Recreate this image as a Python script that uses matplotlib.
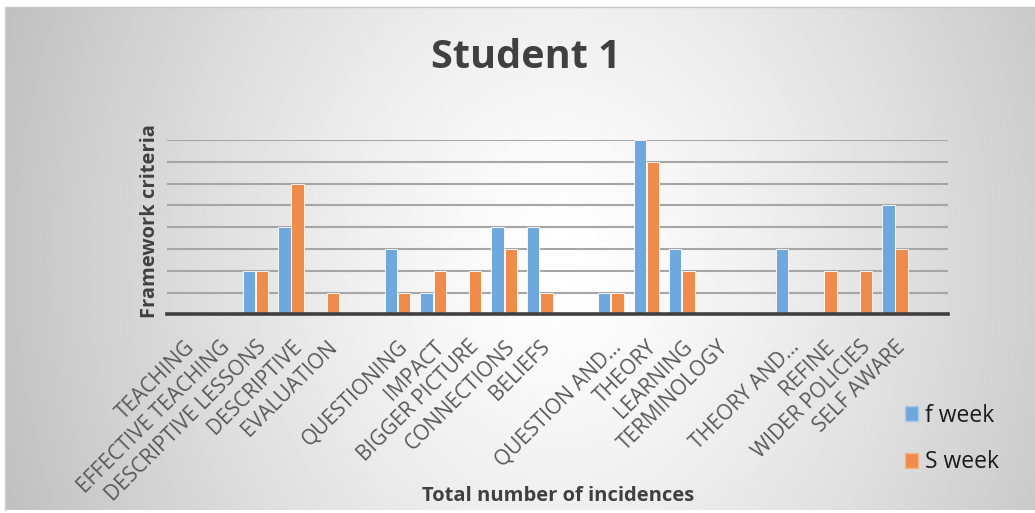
import numpy as np
import matplotlib
matplotlib.use("Agg")
import matplotlib.pyplot as plt
from matplotlib.patches import Patch

plt.rcParams['font.family'] = ['Open Sans', 'DejaVu Sans']

# ---- data ----
categories = ["TEACHING", "EFFECTIVE TEACHING", "DESCRIPTIVE LESSONS", "DESCRIPTIVE",
              "EVALUATION", "", "QUESTIONING", "IMPACT", "BIGGER PICTURE", "CONNECTIONS",
              "BELIEFS", "", "QUESTION AND…", "THEORY", "LEARNING", "TERMINOLOGY", "",
              "THEORY AND…", "REFINE", "WIDER POLICIES", "SELF AWARE", ""]
f_week = [0, 0, 2, 4, 0, 0, 3, 1, 0, 4, 4, 0, 1, 8, 3, 0, 0, 3, 0, 0, 5, 0]
s_week = [0, 0, 2, 6, 1, 0, 1, 2, 2, 3, 1, 0, 1, 7, 2, 0, 0, 0, 2, 2, 3, 0]

W, H = 1035, 513
fig = plt.figure(figsize=(W / 100, H / 100), dpi=100)

# background with soft grey gradient (grey at the sides, white in the middle)
bg = fig.add_axes([0, 0, 1, 1], zorder=-5)
bg.set_xlim(0, W)
bg.set_ylim(H, 0)
bg.axis("off")
gx, gy = np.meshgrid(np.linspace(5, W, 400), np.linspace(7, 510, 200))
dx = (gx - 560) / 540.0
dy = (gy - 260) / 260.0
r = np.clip(np.sqrt(dx ** 2 + (0.4 * dy) ** 2), 0, 1.2)
shade = 1 - 0.22 * r ** 1.3
bg.imshow(shade, extent=[5, W, 510, 7], cmap="gray", vmin=0, vmax=1,
          aspect="auto", interpolation="bilinear")
bg.plot([5, W], [7, 7], color="#c8c8c8", lw=1)
bg.plot([5, 5], [7, 510], color="#d0d0d0", lw=1)

# ---- plot area ----
ax = fig.add_axes([166.7 / W, 1 - 314.3 / H, (948.3 - 166.7) / W, (314.3 - 140) / H])
ax.set_facecolor("none")
x = np.arange(len(categories))
w = 0.35
ax.bar(x - w / 2 - 0.01, f_week, w, color="#6fa8dc", edgecolor="white", linewidth=0.6, zorder=3)
ax.bar(x + w / 2 + 0.01, s_week, w, color="#ef8b4b", edgecolor="white", linewidth=0.6, zorder=3)

ax.set_xlim(-0.5, len(categories) - 0.5)
ax.set_ylim(0, 8)
ax.set_yticks(range(0, 9))
ax.yaxis.grid(True, color="#a6a6a6", linewidth=1.5, zorder=0)
ax.tick_params(axis="y", length=0, labelleft=False)
ax.tick_params(axis="x", length=0, pad=16)
ax.set_xticks(x)
ax.set_xticklabels(categories, rotation=45, ha="right", rotation_mode="anchor",
                   fontsize=15, color="#595959")
for side in ["top", "right", "left"]:
    ax.spines[side].set_visible(False)
ax.spines["bottom"].set_color("#404040")
ax.spines["bottom"].set_linewidth(2.6)
ax.spines["bottom"].set_zorder(4)

# ---- texts ----
fig.text(526 / W, 1 - 57 / H, "Student 1", ha="center", va="center",
         fontsize=28.5, fontweight="bold", color="#404040")
fig.text(150 / W, 1 - 221 / H, "Framework criteria", ha="center", va="center",
         rotation=90, fontsize=14.5, fontweight="bold", color="#404040")
fig.text(558 / W, 1 - 496 / H, "Total number of incidences", ha="center", va="center",
         fontsize=14.5, fontweight="bold", color="#404040")

handles = [Patch(facecolor="#6fa8dc", edgecolor="#a9cbea", label="f week"),
           Patch(facecolor="#ef8b4b", edgecolor="#f5b48a", label="S week")]
fig.legend(handles=handles, loc="center left", bbox_to_anchor=(884 / W, 1 - 439 / H),
           frameon=False, fontsize=16.5, handlelength=0.6, handleheight=0.6,
           handletextpad=0.3, labelspacing=1.0, labelcolor="#1a1a1a")

fig.savefig("out.png", dpi=100)
